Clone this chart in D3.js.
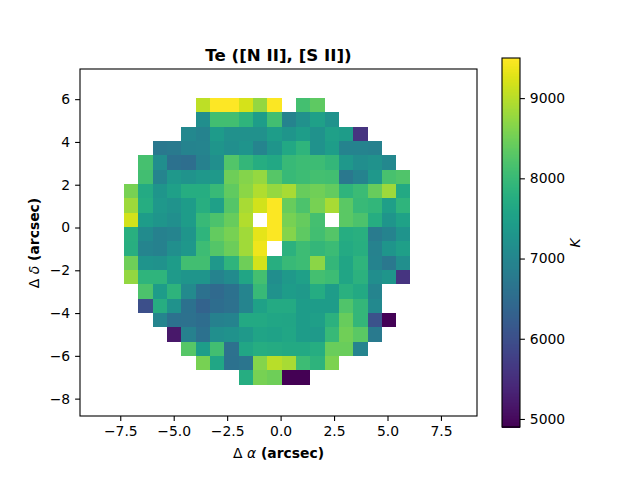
<!DOCTYPE html>
<html><head><meta charset="utf-8">
<script src="https://cdn.jsdelivr.net/npm/d3@7"></script>
<style>html,body{margin:0;padding:0;background:#fff}svg{display:block}text{font-family:"DejaVu Sans";fill:#000}</style>
</head><body><svg id="c" width="640" height="480"></svg>
<script>
const N = null;
const teRows = [
[N,N,N,N,N,9050,9500,9500,9200,8750,9480,N,8130,8350,N,N,N,N,N,N],
[N,N,N,N,N,7150,8100,8100,7900,7450,8100,6950,7200,7500,7250,N,N,N,N,N],
[N,N,N,N,7050,6950,7400,7200,7200,7200,7450,7300,7450,7250,7500,7420,5600,N,N,N],
[N,N,6750,6780,6950,6980,7300,7180,7280,6980,7300,7650,7900,7250,7450,6950,6950,6900,N,N],
[N,8150,7150,6620,6550,6900,7170,8250,7950,7750,7650,8000,8050,8050,7950,7350,7150,7250,7050,N],
[N,8100,6980,7350,7270,7350,7370,8480,8650,8780,8280,8000,8050,8120,8100,6750,6950,7350,8170,8230],
[8550,7700,7300,7500,7750,7750,8000,8380,8700,8950,8780,8900,8430,8500,8400,7900,8030,8430,8820,7680],
[8820,7750,7350,7270,7430,7780,7500,8270,8900,9180,9480,8430,8200,8550,8900,8330,8000,7920,7470,7900],
[9180,7430,7300,7170,7430,8000,8200,8430,8970,N,9480,8550,8420,8120,N,8330,8200,7750,7300,7550],
[7800,7100,6900,6980,7300,7900,8400,8550,8850,9320,9480,8650,8350,8100,8270,7750,7800,6800,6950,7280],
[7780,6980,6900,7170,7330,8050,8270,8470,8850,9380,N,7830,8050,7950,8030,7700,7780,6920,7300,7470],
[8480,7280,7250,7430,8100,8100,7350,7900,8480,9180,7780,8000,8050,8700,7950,7600,7900,6950,6750,7180],
[8750,7900,7900,7380,7300,7300,6950,7100,7600,8120,7150,7370,7500,8120,8050,7600,7830,7150,7300,5600],
[N,8200,7420,7880,7080,6620,6480,6620,6980,8000,7220,7420,7370,7730,7420,7820,7680,6970,N,N],
[N,6000,7770,7250,6620,6350,6530,6600,6970,7530,7700,7700,7420,7420,7420,8230,7950,7070,N,N],
[N,N,7000,6620,6600,6530,6900,6950,7680,7680,7620,7600,7420,7470,7830,8430,7950,6050,4920,N],
[N,N,N,5200,6900,6620,7170,7250,7370,7580,7550,7620,7430,7380,8000,8500,8330,6770,N,N],
[N,N,N,N,8280,7450,8100,6600,7620,7750,7720,7680,7680,7750,8450,8450,6980,N,N,N],
[N,N,N,N,N,8550,7620,6620,6680,8650,9000,8900,8050,7880,8600,N,N,N,N,N],
[N,N,N,N,N,N,N,N,7750,8550,8480,4900,4900,N,N,N,N,N,N,N]
];
const xTicks = [-7.5,-5,-2.5,0,2.5,5,7.5];
const yTicks = [-8,-6,-4,-2,0,2,4,6];
const cbTicks = [5000,6000,7000,8000,9000];
const titleText = "Te ([N II], [S II])";
const cbRange = [4900,9500];

const svg = d3.select("#c");
const px = {l:80,r:477,t:69,b:416};
const x = d3.scaleLinear().domain([-9.383,9.186]).range([px.l,px.r]);
const y = d3.scaleLinear().domain([-8.812,7.41]).range([px.b,px.t]);
const cb = {l:502,r:520,t:58,b:427};
const cy = d3.scaleLinear().domain(cbRange).range([cb.b,cb.t]);
const color = d3.scaleSequential(d3.interpolateViridis).domain(cbRange);
const cell = 0.67, x0 = -7.325, y0 = 6.06;

// heatmap
const cells = teRows.flatMap((r,j)=>r.map((v,i)=>({i,j,v}))).filter(d=>d.v!==null);
svg.append("g").attr("shape-rendering","crispEdges").selectAll("rect").data(cells).join("rect")
  .attr("x",d=>x(x0+d.i*cell))
  .attr("y",d=>y(y0-d.j*cell))
  .attr("width",d=>x(x0+(d.i+1)*cell)-x(x0+d.i*cell))
  .attr("height",d=>y(y0-(d.j+1)*cell)-y(y0-d.j*cell))
  .attr("fill",d=>color(d.v));

function style(g){
  g.selectAll("line").attr("stroke","#000").attr("stroke-width",1.1);
  g.selectAll("text").attr("font-size","13.9px").attr("font-family","DejaVu Sans").attr("fill","#000");
  g.select(".domain").remove();
}
svg.append("g").attr("transform",`translate(0,${px.b})`)
  .call(d3.axisBottom(x).tickValues(xTicks).tickSize(4.9).tickPadding(4.9).tickFormat(d=>String(d%1===0?d.toFixed(1):d).replace("-","\u2212")))
  .call(style);
svg.append("g").attr("transform",`translate(${px.l},0)`)
  .call(d3.axisLeft(y).tickValues(yTicks).tickSize(4.9).tickPadding(4.9).tickFormat(d=>String(d).replace("-","\u2212")))
  .call(style);
svg.append("rect").attr("x",px.l).attr("y",px.t).attr("width",px.r-px.l).attr("height",px.b-px.t)
  .attr("fill","none").attr("stroke","#000").attr("stroke-width",1.1);

// colorbar
const levels = d3.range(256).map(k=>cbRange[0]+(cbRange[1]-cbRange[0])*k/256);
const step = (cbRange[1]-cbRange[0])/256;
svg.append("g").attr("shape-rendering","crispEdges").selectAll("rect").data(levels).join("rect")
  .attr("x",cb.l).attr("width",cb.r-cb.l)
  .attr("y",d=>cy(d+step)).attr("height",d=>cy(d)-cy(d+step)+0.6)
  .attr("fill",d=>color(d+step/2));
svg.append("g").attr("transform",`translate(${cb.r},0)`)
  .call(d3.axisRight(cy).tickValues(cbTicks).tickSize(4.9).tickPadding(4.9).tickFormat(d3.format("d")))
  .call(style);
svg.append("rect").attr("x",cb.l).attr("y",cb.t).attr("width",cb.r-cb.l).attr("height",cb.b-cb.t)
  .attr("fill","none").attr("stroke","#000").attr("stroke-width",1.1);

// text
svg.append("text").attr("x",278.5).attr("y",61).attr("text-anchor","middle")
  .attr("font-size","16.67px").attr("font-weight","bold").text(titleText);
const xl = svg.append("text").attr("x",278.5).attr("y",458).attr("text-anchor","middle")
  .attr("font-size","13.9px").attr("font-weight","bold");
xl.append("tspan").attr("font-weight","normal").text("\u0394 ");
xl.append("tspan").attr("font-style","italic").attr("font-weight","normal").text("\u03b1");
xl.append("tspan").text(" (arcsec)");
const yl = svg.append("text").attr("transform","translate(39,243) rotate(-90)").attr("text-anchor","middle")
  .attr("font-size","13.9px").attr("font-weight","bold");
yl.append("tspan").attr("font-weight","normal").text("\u0394 ");
yl.append("tspan").attr("font-style","italic").attr("font-weight","normal").text("\u03b4");
yl.append("tspan").text(" (arcsec)");
svg.append("text").attr("transform","translate(580,243) rotate(-90)").attr("text-anchor","middle")
  .attr("font-size","13.9px").attr("font-style","italic").text("K");
</script></body></html>
